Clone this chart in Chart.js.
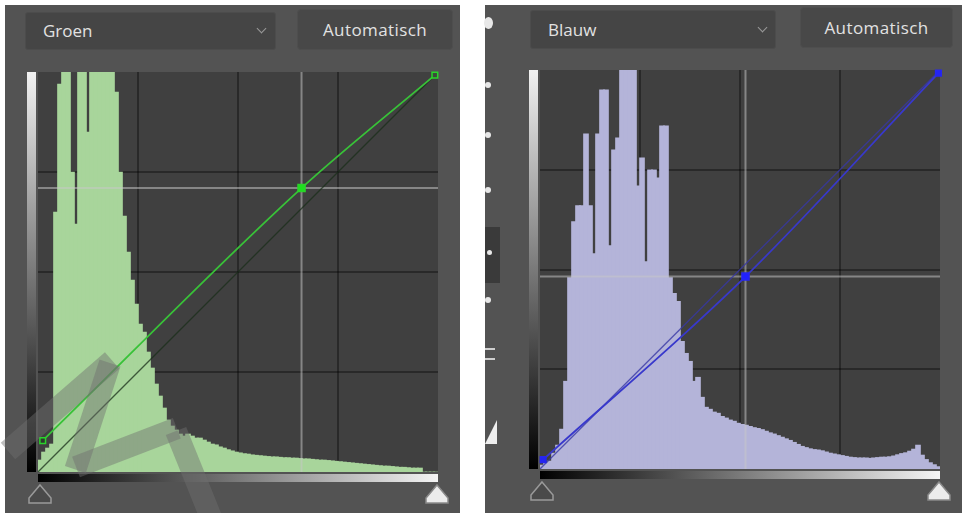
<!DOCTYPE html>
<html>
<head>
<meta charset="utf-8">
<script src="https://cdn.jsdelivr.net/npm/chart.js@4.4.1/dist/chart.umd.min.js"></script>
<style>
  body { margin: 0; width: 962px; height: 513px; background: #fff; position: relative; overflow: hidden; font-family: "Open Sans", "DejaVu Sans", sans-serif; }
  .panel { position: absolute; background: #535353; }
  .drop, .btn { position: absolute; box-sizing: border-box; color: #e2e2e2; font-size: 17px; }
  .drop { background: #454545; border: 1px solid #4c4c4c; border-radius: 3px; padding-left: 17px; }
  .btn { background: #484848; border: 1px solid #4e4e4e; border-radius: 4px; text-align: center; letter-spacing: 0.4px; }
  .chev { position: absolute; width: 6px; height: 6px; border-right: 1.5px solid #9a9a9a; border-bottom: 1.5px solid #9a9a9a; transform: rotate(45deg); }
  canvas { position: absolute; }
  .dot { position: absolute; width: 6px; height: 6px; border-radius: 50%; background: #e8e8e8; }
  .wm { position: absolute; height: 22px; background: rgba(110,110,110,0.45); transform-origin: 0 50%; }
</style>
</head>
<body>
<div class="panel" style="left:5px;top:5px;width:455px;height:508px"></div>
<div class="panel" style="left:485px;top:5px;width:477px;height:508px"></div>

<div class="drop" style="left:25px;top:12px;width:251px;height:38px;line-height:36px">Groen<span class="chev" style="left:232px;top:12px"></span></div>
<div class="btn" style="left:297px;top:9px;width:156px;height:41px;line-height:39px">Automatisch</div>
<div class="drop" style="left:530px;top:10px;width:246px;height:39px;line-height:37px">Blauw<span class="chev" style="left:228px;top:13px"></span></div>
<div class="btn" style="left:800px;top:7px;width:153px;height:41px;line-height:39px">Automatisch</div>

<!-- tool strip of the right panel -->
<div class="dot" style="left:484px;top:17px;width:9px;height:12px"></div>
<div class="dot" style="left:485px;top:82px"></div>
<div class="dot" style="left:485px;top:132px"></div>
<div class="dot" style="left:485px;top:187px"></div>
<div style="position:absolute;left:485px;top:227px;width:15px;height:56px;background:#3a3a3a"></div>
<div class="dot" style="left:487px;top:250px;width:5px;height:5px"></div>
<div class="dot" style="left:485px;top:297px"></div>
<div style="position:absolute;left:485px;top:348px;width:10px;height:2px;background:#cfcfcf"></div>
<div style="position:absolute;left:485px;top:358px;width:10px;height:2px;background:#cfcfcf"></div>
<div style="position:absolute;left:485px;top:420px;width:0;height:0;border-left:12px solid transparent;border-bottom:24px solid #eee"></div>

<canvas id="groen" width="440" height="450" style="left:18px;top:62px"></canvas>
<canvas id="blauw" width="440" height="450" style="left:520px;top:60px"></canvas>

<!-- watermark strokes -->
<div class="wm" style="left:8px;top:440px;width:138px;transform:rotate(-41deg)"></div>
<div class="wm" style="left:110px;top:352px;width:112px;transform:rotate(108deg)"></div>
<div class="wm" style="left:76px;top:456px;width:108px;transform:rotate(-21deg)"></div>
<div class="wm" style="left:176px;top:420px;width:100px;transform:rotate(68deg)"></div>

<script>
// histogram bins (100 bins over 0..255), height in % of plot
const binLabels = Array.from({ length: 100 }, (_, i) => i);
const greenBins = [
  3, 5, 6, 7, 65, 97, 100, 100, 75, 62,
  100, 100, 85, 100, 100, 100, 100, 100, 100, 95,
  75, 64, 55, 48, 42, 37, 35, 30, 26, 22,
  19, 16, 13, 11.5, 10.5, 9.5, 9, 9.5, 9, 8.5,
  8.5, 8, 7.5, 7, 6.8, 6.3, 6, 5.6, 5.3, 5,
  4.8, 4.6, 4.5, 4.3, 4.2, 4.1, 4, 3.9, 3.8, 3.8,
  3.7, 3.6, 3.6, 3.5, 3.5, 3.4, 3.3, 3.3, 3.2, 3.1,
  3, 3, 2.9, 2.8, 2.7, 2.6, 2.5, 2.4, 2.3, 2.2,
  2.1, 2, 1.9, 1.8, 1.7, 1.6, 1.5, 1.5, 1.4, 1.3,
  1.2, 1.2, 1.1, 1, 1, 1, 0, 0, 0, 0
];
const blueBins = [
  1, 1.5, 2, 4, 6, 10, 22, 48, 62, 66,
  66, 84, 66, 54, 84, 95, 95, 56, 80, 83,
  100, 100, 100, 100, 71, 78, 52, 75, 75, 73,
  86, 86, 48, 44, 42, 32, 29, 27, 22, 23,
  18, 15.5, 15, 14.3, 14, 13.2, 12.8, 12.3, 12, 11.5,
  11.2, 11, 10.7, 10.4, 10.2, 9.9, 9.5, 9.1, 8.8, 8.4,
  8, 7.6, 7.2, 6.7, 6.2, 5.7, 5.4, 5.1, 4.9, 4.8,
  4.6, 4.3, 4, 3.8, 3.6, 3.4, 3.2, 3, 2.9, 2.8,
  2.8, 2.8, 2.7, 2.8, 2.9, 3, 3, 3.1, 3.3, 3.6,
  3.9, 4.1, 4.5, 5, 6, 3.5, 2.4, 1.6, 1.1, 0.6
];

// curve points (input -> output, 0..255)
const greenIn = [3, 168, 253];
const greenOut = [20, 181, 253];
const blueIn = [2, 131, 254];
const blueOut = [6, 123, 253];

// grid in quarters
const gridTicks = [63.75, 127.5, 191.25];

function decor(bg) {
  return {
    id: "decor",
    beforeDraw(chart) {
      const a = chart.chartArea, c = chart.ctx;
      c.save();
      c.fillStyle = bg;
      c.fillRect(a.left, a.top, a.right - a.left, a.bottom - a.top);
      c.restore();
    },
    afterDraw(chart) {
      const a = chart.chartArea, c = chart.ctx;
      c.save();
      // vertical output ramp
      let g = c.createLinearGradient(0, a.top, 0, a.bottom);
      g.addColorStop(0, "#f2f2f2");
      g.addColorStop(1, "#000");
      c.fillStyle = g;
      c.fillRect(a.left - 11, a.top, 9, a.bottom - a.top);
      // horizontal input ramp
      g = c.createLinearGradient(a.left, 0, a.right, 0);
      g.addColorStop(0, "#000");
      g.addColorStop(1, "#f4f4f4");
      c.fillStyle = g;
      c.fillRect(a.left, a.bottom + 2, a.right - a.left, 8);
      // slider triangles
      tri(c, a.left + 2, a.bottom + 13, "#4a4a4a", "#9a9a9a");
      tri(c, a.right - 1, a.bottom + 13, "#ececec", "#8a8a8a");
      c.restore();
    }
  };
}

function tri(c, x, y, fill, stroke) {
  c.beginPath();
  c.moveTo(x, y);
  c.lineTo(x + 11, y + 13);
  c.lineTo(x + 11, y + 18);
  c.lineTo(x - 11, y + 18);
  c.lineTo(x - 11, y + 13);
  c.closePath();
  c.fillStyle = fill;
  c.fill();
  c.lineWidth = 1.5;
  c.strokeStyle = stroke;
  c.stroke();
}

function gridAxis(pos) {
  return {
    type: "linear",
    position: pos,
    min: 0,
    max: 255,
    offset: false,
    z: 1,
    ticks: { display: false },
    border: { display: false },
    grid: { offset: false, color: "rgba(0,0,0,0.36)", lineWidth: 2, drawTicks: false },
    afterBuildTicks: (s) => { s.ticks = gridTicks.map((v) => ({ value: v })); }
  };
}

function makeCurves(el, opt) {
  const pts = opt.curveIn.map((x, i) => ({ x: x, y: opt.curveOut[i] }));
  const px = opt.curveIn[1], py = opt.curveOut[1];
  new Chart(el, {
    type: "bar",
    data: {
      labels: binLabels,
      datasets: [
        {
          type: "line",
          data: pts,
          xAxisID: "x2",
          yAxisID: "y2",
          order: 1,
          borderColor: opt.line,
          borderWidth: 1.8,
          cubicInterpolationMode: "monotone",
          pointStyle: "rect",
          pointRadius: [4, 5, 4],
          pointBorderWidth: 1.5,
          pointBorderColor: opt.point,
          pointBackgroundColor: opt.pointFill,
          clip: 8
        },
        {
          type: "line",
          data: [{ x: 0, y: 0 }, { x: 255, y: 255 }],
          xAxisID: "x2",
          yAxisID: "y2",
          order: 2,
          borderColor: opt.base,
          borderWidth: 1.3,
          pointRadius: 0
        },
        {
          type: "line",
          data: [{ x: 0, y: py }, { x: 255, y: py }],
          xAxisID: "x2",
          yAxisID: "y2",
          order: 3,
          borderColor: "rgba(200,200,200,0.52)",
          borderWidth: 2,
          pointRadius: 0
        },
        {
          type: "line",
          data: [{ x: px, y: 0 }, { x: px, y: 255 }],
          xAxisID: "x2",
          yAxisID: "y2",
          order: 3,
          borderColor: "rgba(200,200,200,0.52)",
          borderWidth: 2,
          pointRadius: 0
        },
        {
          type: "bar",
          data: opt.bins,
          xAxisID: "x",
          yAxisID: "y",
          order: 10,
          backgroundColor: opt.fill,
          borderWidth: 0,
          barThickness: 5,
          grouped: false
        }
      ]
    },
    options: {
      responsive: false,
      animation: false,
      events: [],
      layout: { padding: opt.pad },
      datasets: { bar: { barThickness: 5, grouped: false } },
      plugins: { legend: { display: false }, tooltip: { enabled: false } },
      scales: {
        x: { type: "category", display: false, offset: true },
        y: { display: false, min: 0, max: 100 },
        x2: gridAxis("bottom"),
        y2: gridAxis("left")
      }
    },
    plugins: [decor("#404040")]
  });
}

makeCurves(document.getElementById("groen"), {
  bins: greenBins,
  curveIn: greenIn,
  curveOut: greenOut,
  fill: "#a8d59b",
  line: "#38c238",
  base: "rgba(25,45,25,0.75)",
  point: "#2ad42a",
  pointFill: ["#2c3c2c", "#1ee01e", "#3c4a3c"],
  pad: { left: 20, right: 20, top: 10, bottom: 40 }
});

makeCurves(document.getElementById("blauw"), {
  bins: blueBins,
  curveIn: blueIn,
  curveOut: blueOut,
  fill: "#b4b4d9",
  line: "#3838cc",
  base: "rgba(55,55,165,0.8)",
  point: "#2626f0",
  pointFill: ["#2424f4", "#2020ff", "#2424f4"],
  pad: { left: 20, right: 20, top: 10, bottom: 41 }
});
</script>
</body>
</html>
